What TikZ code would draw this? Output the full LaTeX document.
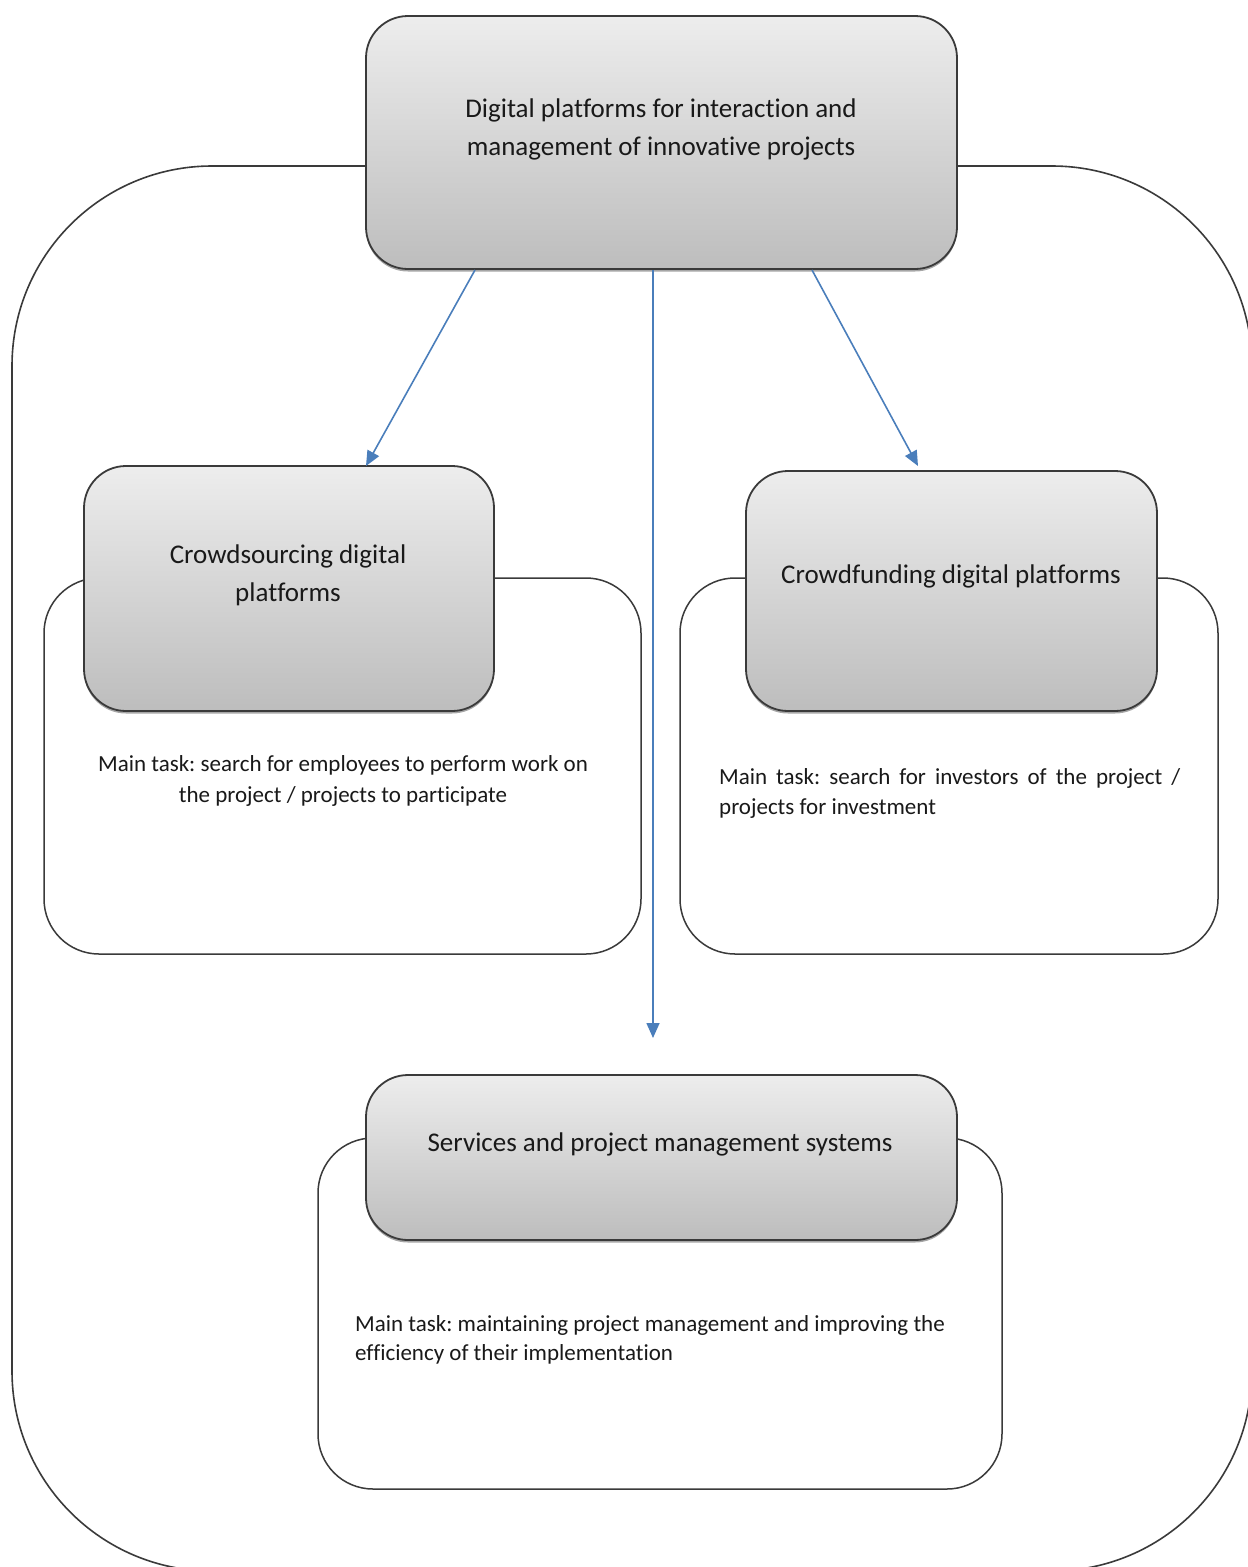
\documentclass[tikz,border=0pt]{standalone}
\usepackage{fontspec}
\setmainfont{Carlito}[Ligatures={NoCommon,NoRequired,NoContextual,NoDiscretionary}]
\usetikzlibrary{arrows.meta,shadows}

\definecolor{boxtop}{HTML}{EDEDED}
\definecolor{boxbot}{HTML}{BDBDBD}
\definecolor{edge}{HTML}{3A3A3A}
\definecolor{flow}{HTML}{4A7EBB}

\begin{document}
\frenchspacing
\begin{tikzpicture}[x=1pt,y=-1pt,
  outer/.style={draw=edge, line width=1.6pt, rounded corners=200pt},
  panel/.style={draw=edge, line width=1.5pt, rounded corners=55pt, fill=white},
  headbox/.style={draw=edge, line width=1.8pt, rounded corners=42pt,
    top color=boxtop, bottom color=boxbot, inner sep=0pt,
    drop shadow={shadow xshift=0pt, shadow yshift=-2.5pt, opacity=0.35, fill=black}},
  head/.style={anchor=base, inner sep=0pt, font=\fontsize{27}{38}\selectfont, text=black!90},
  note/.style={anchor=base, inner sep=0pt, font=\fontsize{23}{31}\selectfont, text=black!90},
  link/.style={draw=flow, line width=1.6pt, -{Triangle[length=15pt,width=13pt]}}
]
\useasboundingbox (0,0) rectangle (1248,1567);

% enclosing frame, running past the page edge on the right and bottom
\begin{scope}
  \clip (0,0) rectangle (1248,1567);
  \draw[outer] (12,166) rectangle (1252,1571);
\end{scope}

% white panels behind the grey headers
\node[panel, minimum width=597pt, minimum height=376pt] (lpanel) at (342.5,766) {};
\node[panel, minimum width=538pt, minimum height=376pt] (rpanel) at (949,766) {};
\node[panel, minimum width=684pt, minimum height=351pt] (bpanel) at (660,1313.5) {};

% grey headers
\node[headbox, minimum width=591pt, minimum height=253pt] (top) at (661.5,142.5) {};
\node[headbox, minimum width=410pt, minimum height=245pt] (lbox) at (289,588.5) {};
\node[headbox, minimum width=411pt, minimum height=240pt] (rbox) at (951.5,591) {};
\node[headbox, minimum width=591pt, minimum height=165pt] (bbox) at (661.5,1157.5) {};

% header texts
\node[head] (t1) at (661,117) {Digital platforms for interaction and};
\node[head] (t2) at (661,155) {management of innovative projects};
\node[head] (l1) at (288,563) {Crowdsourcing digital};
\node[head] (l2) at (288,601) {platforms};
\node[head] (r1) at (951,583) {Crowdfunding digital platforms};
\node[head] (b1) at (660,1151) {Services and project management systems};

% panel texts
\node[note] (ln1) at (343,771) {Main task: search for employees to perform work on};
\node[note] (ln2) at (343,802) {the project / projects to participate};
\node[note, anchor=base west] (rn1) at (719,784) {\makebox[461pt][s]{Main task: search for investors of the project /}};
\node[note, anchor=base west] (rn2) at (719,814) {projects for investment};
\node[note, anchor=base west] (bn1) at (355,1331) {Main task: maintaining project management and improving the};
\node[note, anchor=base west] (bn2) at (355,1360) {efficiency of their implementation};

% connectors
\coordinate (sL) at (475,270);
\coordinate (eL) at (366,466);
\coordinate (sR) at (812,270);
\coordinate (eR) at (918,466);
\coordinate (sM) at (653,270);
\coordinate (eM) at (653,1038);
\draw[link] (sL) -- (eL);
\draw[link] (sR) -- (eR);
\draw[link] (sM) -- (eM);
\end{tikzpicture}
\end{document}
